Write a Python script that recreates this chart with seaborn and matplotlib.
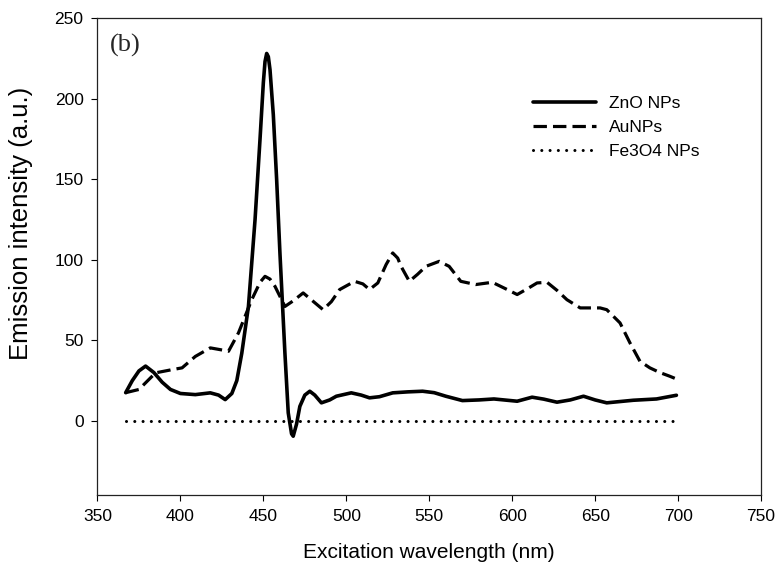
import matplotlib
matplotlib.use("Agg")
import matplotlib.pyplot as plt
import seaborn as sns

# Emission spectra read per series
zno_wl = [367, 371, 375, 379, 384, 389, 394, 400, 409, 418, 423, 427, 431, 434,
          437, 441, 445, 448, 450, 451, 452, 453, 454, 456, 458, 460, 463, 465,
          467, 468, 470, 472, 475, 478, 481, 485, 490, 494, 503, 509, 514, 520,
          528, 537, 546, 553, 560, 570, 580, 589, 597, 603, 612, 619, 627, 635,
          643, 650, 657, 665, 673, 687, 699]
zno_int = [17.5, 25, 31, 34, 30, 24, 19.5, 17, 16.3, 17.4, 16, 13.2, 17, 25,
           42, 71, 125, 175, 210, 223, 228, 226, 218, 190, 150, 104, 42, 5,
           -8, -9.5, -2, 9, 16, 18.4, 16, 11.2, 13, 15.3, 17.4, 16, 14.3, 15,
           17.4, 18, 18.4, 17.5, 15.3, 12.6, 13, 13.6, 12.8, 12.2, 14.7, 13.5, 11.6, 13,
           15.3, 13, 11.2, 12, 12.8, 13.6, 15.9]

au_wl = [367, 375, 385, 395, 401, 409, 418, 424, 429, 435, 443, 448, 451, 454,
         457, 463, 468, 474, 480, 486, 491, 496, 505, 510, 514, 519, 524, 528,
         531, 533, 538, 543, 548, 556, 562, 569, 578, 588, 597, 603, 609, 615,
         621, 627, 633, 641, 653, 657, 665, 671, 677, 683, 689, 695, 699]
au_int = [17.5, 19.5, 29.8, 31.8, 32.9, 40, 45.3, 44.2, 43.2, 54.6, 75.2, 86, 89.7, 88,
          83.5, 71, 74.5, 79.4, 74.2, 69, 74, 81.5, 86.6, 85, 81.5, 85.6, 97, 104.2,
          101, 95.9, 86.6, 91, 95.9, 99, 95.9, 86.6, 84.6, 86, 81.5, 78.4, 81.9, 85.6,
          86, 81, 75.2, 70.1, 70.1, 69, 60.8, 48.4, 37, 32.9, 30, 27.7, 26]

fe_wl = [367, 697]
fe_int = [0, 0]

series_names = ["ZnO NPs", "AuNPs", "Fe3O4 NPs"]
x_ticks = [350, 400, 450, 500, 550, 600, 650, 700, 750]
y_ticks = [0, 50, 100, 150, 200, 250]

sns.set_theme(style="white")
plt.rcParams["font.family"] = ["Liberation Sans", "DejaVu Sans"]

fig = plt.figure(figsize=(7.76, 5.72), dpi=100)
ax = fig.add_axes([0.1256, 0.1346, 0.8551, 0.8339])

sns.lineplot(x=zno_wl, y=zno_int, ax=ax, color="black", linewidth=2.6,
             label=series_names[0], sort=False)
sns.lineplot(x=au_wl, y=au_int, ax=ax, color="black", linewidth=2.3,
             label=series_names[1], sort=False)
sns.lineplot(x=fe_wl, y=fe_int, ax=ax, color="black", linewidth=2.2,
             label=series_names[2], sort=False)

lines = ax.get_lines()
lines[0].set_solid_joinstyle("round")
lines[1].set_dashes((4.2, 1.9))
lines[1].set_dash_joinstyle("round")
lines[2].set_dashes((0.01, 2.7))
lines[2].set_dash_capstyle("round")

ax.set_xlim(350, 750)
ax.set_ylim(-46, 250)
ax.set_xticks(x_ticks)
ax.set_yticks(y_ticks)
ax.tick_params(axis="both", which="both", direction="out", length=4, width=0.8,
               color="black", labelsize=12.5, pad=6, bottom=True, left=True,
               top=False, right=False, labelcolor="black")
for sp in ax.spines.values():
    sp.set_linewidth(0.9)
    sp.set_color("#222222")

ax.set_xlabel("Excitation wavelength (nm)", fontsize=15, labelpad=14, color="black")
ax.set_ylabel("Emission intensity (a.u.)", fontsize=18.5, color="black")
ax.yaxis.set_label_coords(-0.097, 0.57)

ax.text(0.019, 0.943, "(b)", transform=ax.transAxes, fontsize=19,
        family=["Liberation Serif", "DejaVu Serif"], va="center", ha="left")

leg = ax.legend(loc="upper left", bbox_to_anchor=(533 / 776, 1 - 96 / 572),
                bbox_transform=fig.transFigure, frameon=False, fontsize=12.5,
                handlelength=3.6, handletextpad=0.75, borderpad=0,
                borderaxespad=0, labelspacing=0.5)
for t in leg.get_texts():
    t.set_color("black")

fig.savefig("out.png", dpi=100)
